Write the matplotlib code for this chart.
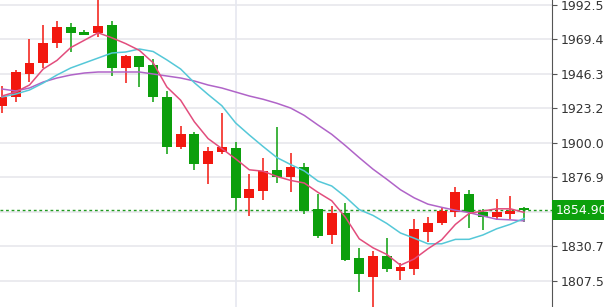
# Candlestick chart with MA5 / MA10 / MA20, price axis on the right

import matplotlib
matplotlib.use("Agg")
import matplotlib.pyplot as plt
import numpy as np

# OHLC values (red = up, green = down)
opens = [1924.68, 1930.71, 1946.13, 1953.50, 1966.90, 1977.62, 1974.27, 1973.60, 1978.96, 1950.15,
         1958.19, 1952.16, 1930.71, 1897.20, 1905.91, 1885.81, 1893.85, 1896.53, 1863.02, 1867.71,
         1881.79, 1877.09, 1883.80, 1855.65, 1838.22, 1852.97, 1822.81, 1810.07, 1824.15, 1814.10,
         1815.44, 1840.23, 1846.27, 1853.64, 1865.70, 1853.64, 1850.29, 1852.30, 1856.32]
highs = [1938.08, 1948.81, 1969.58, 1978.96, 1981.65, 1980.31, 1975.61, 1997.00, 1981.65, 1958.86,
         1958.19, 1956.18, 1934.73, 1911.27, 1907.25, 1897.20, 1919.99, 1900.55, 1879.11, 1889.83,
         1910.60, 1893.18, 1886.48, 1865.70, 1857.66, 1859.67, 1829.51, 1827.50, 1836.21, 1819.46,
         1848.95, 1850.29, 1856.32, 1870.39, 1868.38, 1855.65, 1862.35, 1864.36, 1857.00]
lows = [1919.99, 1927.36, 1940.76, 1950.15, 1963.55, 1960.87, 1971.93, 1970.92, 1944.78, 1940.09,
        1937.41, 1927.36, 1892.51, 1895.86, 1881.79, 1872.40, 1892.51, 1854.98, 1850.96, 1861.68,
        1873.07, 1867.04, 1852.30, 1836.21, 1832.19, 1820.80, 1800.02, 1787.00, 1813.43, 1808.06,
        1811.42, 1833.53, 1844.93, 1850.29, 1842.91, 1841.57, 1848.28, 1848.95, 1846.90]
closes = [1930.71, 1947.46, 1953.50, 1966.90, 1977.62, 1973.60, 1972.26, 1978.29, 1950.15, 1958.19,
          1950.82, 1930.71, 1897.20, 1905.91, 1885.81, 1894.52, 1897.20, 1863.02, 1869.05, 1881.12,
          1877.09, 1883.80, 1854.31, 1837.55, 1852.97, 1821.47, 1812.09, 1824.15, 1815.44, 1816.78,
          1842.24, 1846.27, 1854.31, 1867.04, 1853.64, 1850.29, 1853.64, 1854.31, 1854.90]

# moving averages
ma5 = [1931.38, 1934.06, 1938.75, 1949.48, 1955.24, 1963.82, 1968.78, 1973.73, 1970.38, 1966.50,
       1961.94, 1953.63, 1937.41, 1928.57, 1914.09, 1902.83, 1896.13, 1889.29, 1881.92, 1880.98,
       1877.50, 1874.82, 1873.07, 1866.77, 1861.14, 1850.02, 1835.68, 1829.65, 1825.22, 1817.99,
       1822.14, 1828.98, 1835.01, 1845.33, 1852.70, 1854.31, 1855.78, 1855.78, 1853.36]
ma10 = [1930.71, 1932.72, 1935.40, 1940.09, 1945.46, 1950.15, 1953.50, 1956.85, 1960.20, 1960.87,
        1962.88, 1961.20, 1955.57, 1949.48, 1940.29, 1932.39, 1924.88, 1913.35, 1905.24, 1897.54,
        1890.16, 1885.47, 1881.18, 1874.35, 1871.06, 1863.76, 1855.25, 1851.36, 1846.00, 1839.57,
        1836.08, 1832.33, 1832.33, 1835.28, 1835.34, 1838.23, 1842.38, 1845.40, 1849.34]
ma20 = [1936.07, 1934.73, 1936.74, 1940.76, 1943.44, 1945.45, 1946.80, 1947.47, 1947.47, 1947.47,
        1947.47, 1946.13, 1944.79, 1943.44, 1941.43, 1938.75, 1936.74, 1934.06, 1931.38, 1929.20,
        1926.52, 1923.34, 1918.38, 1911.91, 1905.68, 1898.07, 1890.06, 1882.36, 1875.62, 1868.55,
        1863.12, 1858.90, 1856.76, 1854.81, 1853.20, 1850.99, 1848.81, 1848.38, 1847.67]

tick_values = [1807.59, 1830.72, 1853.84, 1876.96, 1900.08, 1923.20, 1946.33, 1969.45, 1992.57]
# the 1853.84 label sits under the last-price box, so it is left blank
tick_labels = ["1807.59", "1830.72", "", "1876.96", "1900.08", "1923.20", "1946.33", "1969.45", "1992.57"]
last_price = 1854.90
last_label = "1854.90"
session_break = 17  # index of the candle with the vertical grid line

UP = "#f2180f"
DOWN = "#0c9f0c"

fig = plt.figure(figsize=(6.04, 3.07), dpi=100)
ax = fig.add_axes([0, 0, 552 / 604, 1])

x = np.arange(len(opens))
o = np.array(opens)
c = np.array(closes)
colors = [UP if cc >= oo else DOWN for oo, cc in zip(o, c)]

# grid
for v in tick_values:
    ax.axhline(v, color="#e8e8ec", lw=1.2, zorder=0)
ax.axvline(session_break, color="#e6e8f0", lw=1.2, zorder=0)

# wicks and bodies
ax.vlines(x, lows, highs, colors=colors, lw=1.1, zorder=2)
ax.bar(x, np.abs(c - o), bottom=np.minimum(o, c), width=0.72, color=colors, zorder=3)

# moving averages
ax.plot(x, ma20, color="#b064c8", lw=1.1, zorder=4)
ax.plot(x, ma10, color="#55c8d8", lw=1.1, zorder=4)
ax.plot(x, ma5, color="#e24d7d", lw=1.1, zorder=4)

# last price line
ax.axhline(last_price, color="#1f9a1f", lw=1.0, ls=(0, (2, 2)), zorder=1)

ax.set_xlim(-0.146, 40.03)
ax.set_ylim(1789.97, 1995.72)

for s in ["left", "top", "bottom"]:
    ax.spines[s].set_visible(False)
ax.spines["right"].set_color("#555555")
ax.set_xticks([])
ax.yaxis.tick_right()
ax.set_yticks(tick_values)
ax.set_yticklabels(tick_labels)
ax.tick_params(axis="y", direction="out", length=3.6, width=0.8, color="#555555",
               pad=2.8, labelsize=9, labelcolor="#333333")

ax.annotate(last_label, xy=(1, last_price), xycoords=("axes fraction", "data"),
            xytext=(2.6, 0), textcoords="offset points", ha="left", va="center",
            fontsize=9, color="white", annotation_clip=False, zorder=10,
            bbox=dict(boxstyle="square,pad=0.3", fc="#0ca00c", ec="none"))

fig.savefig("out.png", dpi=100)
